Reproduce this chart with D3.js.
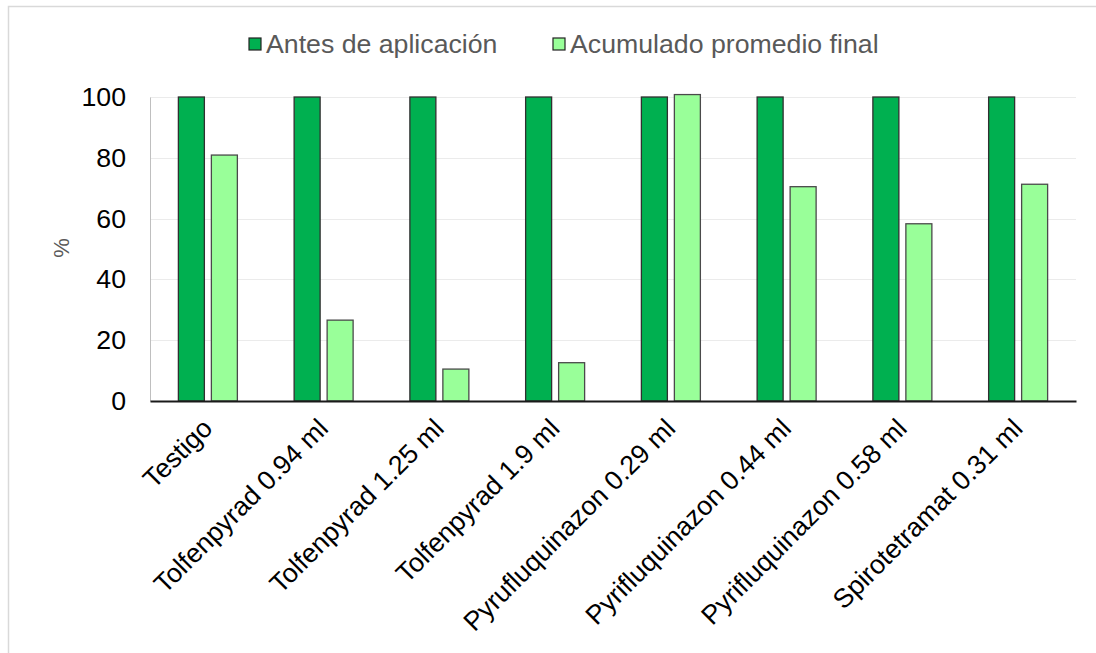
<!DOCTYPE html>
<html>
<head>
<meta charset="utf-8">
<script src="https://cdn.jsdelivr.net/npm/d3@7"></script>
<style>
  html, body { margin: 0; padding: 0; background: #fff; }
  svg { display: block; font-family: "Liberation Sans", Arial, sans-serif; }
</style>
</head>
<body>
<svg id="chart" width="1096" height="653"></svg>
<script>
// Tratamientos evaluados
const categories = [
  "Testigo",
  "Tolfenpyrad 0.94 ml",
  "Tolfenpyrad 1.25 ml",
  "Tolfenpyrad 1.9 ml",
  "Pyrufluquinazon 0.29 ml",
  "Pyrifluquinazon 0.44 ml",
  "Pyrifluquinazon 0.58 ml",
  "Spirotetramat 0.31 ml"
];
const seriesNames = ["Antes de aplicación", "Acumulado promedio final"];
const antes = [100, 100, 100, 100, 100, 100, 100, 100];
const acumulado = [80.9, 26.6, 10.5, 12.6, 100.8, 70.5, 58.3, 71.3];
const yTicks = [0, 20, 40, 60, 80, 100];
const colors = ["#00b050", "#99ff99"];

const svg = d3.select("#chart");
const margin = { left: 150, right: 1076, top: 97, bottom: 401 };

// outer chart frame
svg.append("rect")
  .attr("x", 8.5).attr("y", 6.5)
  .attr("width", 1200).attr("height", 800)
  .attr("fill", "none").attr("stroke", "#d9d9d9").attr("stroke-width", 1.5);

const x = d3.scaleBand().domain(categories).range([margin.left, margin.right]);
const y = d3.scaleLinear().domain([0, 100]).range([margin.bottom, margin.top]);

const barW = x.bandwidth() * 0.2246;
const gap = 7;

// gridlines
svg.append("g")
  .selectAll("line")
  .data(yTicks.filter(t => t > 0))
  .join("line")
  .attr("x1", margin.left).attr("x2", margin.right)
  .attr("y1", d => Math.round(y(d)) + 0.5).attr("y2", d => Math.round(y(d)) + 0.5)
  .attr("stroke", "#ebebeb").attr("stroke-width", 1);

// y axis
const yAxis = svg.append("g")
  .attr("transform", `translate(${margin.left},0)`)
  .call(d3.axisLeft(y).tickValues(yTicks).tickSize(0).tickPadding(24));
yAxis.select(".domain").attr("stroke", "#bfbfbf").attr("stroke-width", 1);
yAxis.selectAll("text")
  .attr("font-size", "26.7px").attr("fill", "#000")
  .attr("font-family", "Liberation Sans, Arial, sans-serif");

// bars
const groups = svg.append("g").selectAll("g")
  .data(categories)
  .join("g")
  .attr("transform", d => `translate(${x(d) + (x.bandwidth() - (barW * 2 + gap)) / 2},0)`);

groups.selectAll("rect")
  .data((d, i) => [antes[i], acumulado[i]].map((v, s) => ({ v, s })))
  .join("rect")
  .attr("x", d => d.s === 0 ? 0 : barW + gap)
  .attr("width", barW)
  .attr("y", d => y(d.v))
  .attr("height", d => y(0) - y(d.v))
  .attr("fill", d => colors[d.s])
  .attr("stroke", d => d.s === 0 ? "#303030" : "#4a4a4a")
  .attr("stroke-width", 1.3);

// x axis
const xAxis = svg.append("g")
  .attr("transform", `translate(0,${margin.bottom})`)
  .call(d3.axisBottom(x).tickSize(0).tickFormat(""));
xAxis.select(".domain").attr("stroke", "#1a1a1a").attr("stroke-width", 2);

// rotated category labels
svg.append("g").selectAll("text")
  .data(categories)
  .join("text")
  .attr("transform", d => `translate(${x(d) + x.bandwidth() / 2 + 6},${margin.bottom + 29}) rotate(-45)`)
  .attr("text-anchor", "end")
  .attr("font-size", "26.7px")
  .attr("fill", "#000")
  .text(d => d);

// y title
svg.append("text")
  .attr("transform", "translate(69,248) rotate(-90)")
  .attr("text-anchor", "middle")
  .attr("font-size", "22px")
  .attr("fill", "#595959")
  .text("%");

// legend
const legendItems = [{ name: seriesNames[0], x: 249 }, { name: seriesNames[1], x: 553 }];
const lg = svg.append("g").selectAll("g")
  .data(legendItems)
  .join("g")
  .attr("transform", d => `translate(${d.x},38)`);
lg.append("rect")
  .attr("width", 12).attr("height", 12)
  .attr("fill", (d, i) => colors[i])
  .attr("stroke", "#222").attr("stroke-width", 1.2);
lg.append("text")
  .attr("x", 17).attr("y", 15)
  .attr("font-size", "26.7px")
  .attr("fill", "#595959")
  .text(d => d.name);
</script>
</body>
</html>
